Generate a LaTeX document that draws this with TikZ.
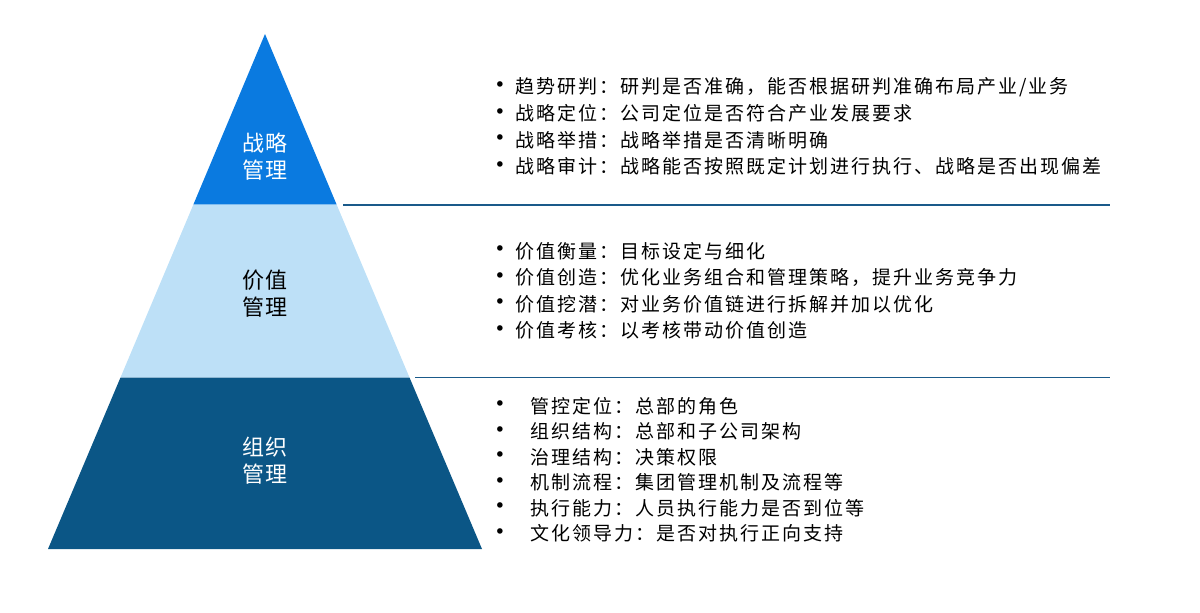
\documentclass[tikz,border=0pt]{standalone}
\usepackage{fontspec}
\newfontfamily\cjk{Noto Sans CJK SC}[LetterSpace=10.5]
\newfontfamily\cjklab{Noto Sans CJK SC}[LetterSpace=7]
\newfontfamily\bul{DejaVu Sans}
\definecolor{topblue}{RGB}{10,122,224}
\definecolor{midblue}{RGB}{189,224,247}
\definecolor{botblue}{RGB}{11,86,134}
\definecolor{rule}{RGB}{26,90,138}
\begin{document}
\begin{tikzpicture}[x=1pt,y=-1pt,
  item/.style={anchor=west,inner sep=0pt,font=\cjk\fontsize{19}{19}\selectfont,text=black},
  dot/.style={inner sep=0pt,font=\bul\fontsize{19}{19}\selectfont,text=black},
  lab/.style={inner sep=0pt,align=center,font=\cjklab\fontsize{22}{27}\selectfont},
  sep/.style={draw=rule,line width=1.2pt}]
\useasboundingbox (0,0) rectangle (1200,613);
% pyramid corners
\coordinate (A) at (265,34);
\coordinate (L1) at (193.4,204.5);
\coordinate (R1) at (336.6,204.5);
\coordinate (L2) at (120.5,377.5);
\coordinate (R2) at (409.5,377.5);
\coordinate (BL) at (48,549);
\coordinate (BR) at (482,549);
\fill[topblue] (A) -- (R1) -- (L1) -- cycle;
\fill[midblue] (L1) -- (R1) -- (R2) -- (L2) -- cycle;
\fill[botblue] (L2) -- (R2) -- (BR) -- (BL) -- cycle;
% separators
\coordinate (s1a) at (343,205);
\coordinate (s1b) at (1110,205);
\coordinate (s2a) at (415,377.5);
\coordinate (s2b) at (1110,377.5);
\draw[sep] (s1a) -- (s1b);
\draw[sep] (s2a) -- (s2b);
% labels
\node[lab,text=white] (l1) at (265,157) {战略\\管理};
\node[lab,text=black] (l2) at (265,294) {价值\\管理};
\node[lab,text=white] (l3) at (265,461) {组织\\管理};
% top block
\foreach \y/\t [count=\i] in {87/{趋势研判：研判是否准确，能否根据研判准确布局产业/业务},
  113.5/{战略定位：公司定位是否符合产业发展要求},
  140/{战略举措：战略举措是否清晰明确},
  166.5/{战略审计：战略能否按照既定计划进行执行、战略是否出现偏差}}{
  \node[dot] (ta\i) at (500,\y) {•};
  \node[item] (tt\i) at (515,\y) {\t};
}
% middle block
\foreach \y/\t [count=\i] in {251/{价值衡量：目标设定与细化},
  277.5/{价值创造：优化业务组合和管理策略，提升业务竞争力},
  304/{价值挖潜：对业务价值链进行拆解并加以优化},
  330.5/{价值考核：以考核带动价值创造}}{
  \node[dot] (ma\i) at (500,\y) {•};
  \node[item] (mt\i) at (515,\y) {\t};
}
% bottom block
\foreach \y/\t [count=\i] in {406/{管控定位：总部的角色},
  431.5/{组织结构：总部和子公司架构},
  457/{治理结构：决策权限},
  482.5/{机制流程：集团管理机制及流程等},
  508/{执行能力：人员执行能力是否到位等},
  533.5/{文化领导力：是否对执行正向支持}}{
  \node[dot] (ba\i) at (500,\y) {•};
  \node[item] (bt\i) at (530,\y) {\t};
}
\end{tikzpicture}
\end{document}
